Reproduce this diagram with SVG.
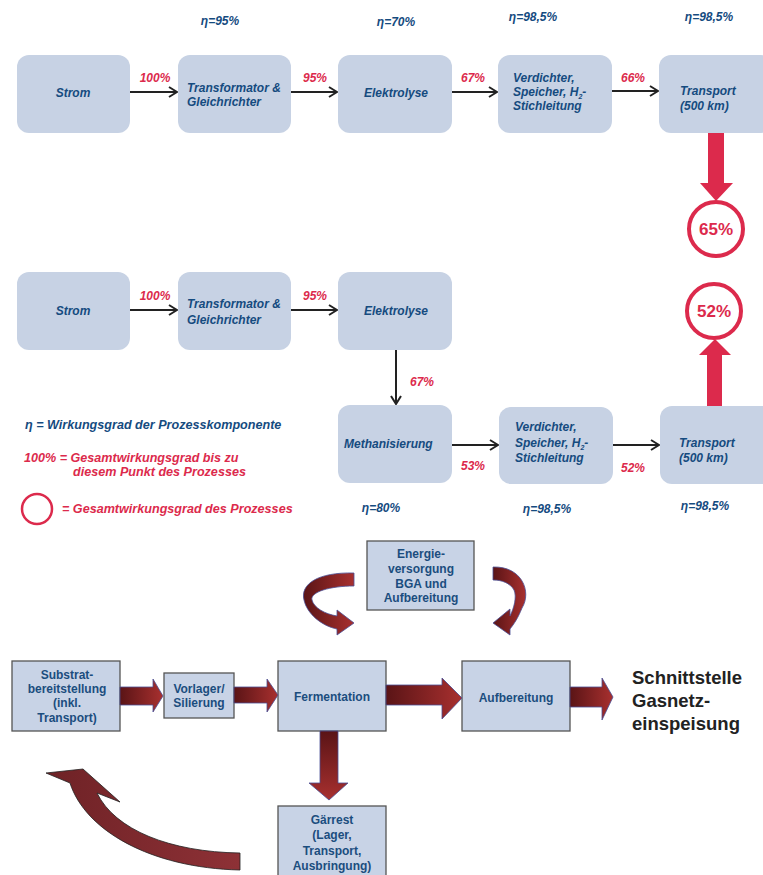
<svg xmlns="http://www.w3.org/2000/svg" width="763" height="875" viewBox="0 0 763 875">
<defs>
<style>
.rb{fill:#c7d2e4;}
.t{font-family:"Liberation Sans",Arial,sans-serif;font-weight:bold;font-style:italic;font-size:12px;fill:#154b7f;}
.r{font-family:"Liberation Sans",Arial,sans-serif;font-weight:bold;font-style:italic;font-size:12px;fill:#dc2a4c;}
.lg{font-size:12.6px;}
.pc{font-family:"Liberation Sans",Arial,sans-serif;font-weight:bold;font-size:17px;fill:#dc2a4c;text-anchor:middle;}
.ln{stroke:#222;stroke-width:2;fill:none;marker-end:url(#ah);}
.sb{fill:#c8d3e6;stroke:#555;stroke-width:1.3;}
.b{font-family:"Liberation Sans",Arial,sans-serif;font-weight:bold;font-size:12px;fill:#1b4d7e;text-anchor:middle;}
.ra{fill:url(#gh);stroke:#4a4f96;stroke-width:0.8;}
.circ{fill:#fff;stroke:#dc2a4c;stroke-width:4;}
</style>
<marker id="ah" markerWidth="10" markerHeight="12" refX="9" refY="6" orient="auto" markerUnits="userSpaceOnUse">
<path d="M1,1 L9,6 L1,11" fill="none" stroke="#222" stroke-width="2"/>
</marker>
<linearGradient id="gh" x1="0" y1="0" x2="1" y2="0">
<stop offset="0" stop-color="#5a1416"/><stop offset="1" stop-color="#a8302f"/>
</linearGradient>
<linearGradient id="gv" x1="0" y1="0" x2="0" y2="1">
<stop offset="0" stop-color="#5a1416"/><stop offset="1" stop-color="#a8302f"/>
</linearGradient>
<linearGradient id="gb" x1="0" y1="0" x2="1" y2="0">
<stop offset="0" stop-color="#6e2226"/><stop offset="1" stop-color="#8e3136"/>
</linearGradient>
</defs>

<!-- Row 1 -->
<g id="strom1"><rect class="rb" x="17" y="55" width="113" height="78" rx="12"/><text class="t" x="73" y="97" text-anchor="middle">Strom</text></g>
<g id="trafo1"><rect class="rb" x="178" y="55" width="113" height="78" rx="12"/><text class="t" x="187" y="92">Transformator &amp;</text><text class="t" x="187" y="106">Gleichrichter</text></g>
<g id="elek1"><rect class="rb" x="338" y="55" width="114" height="78" rx="12"/><text class="t" x="396" y="97" text-anchor="middle">Elektrolyse</text></g>
<g id="verd1"><rect class="rb" x="498" y="55" width="114" height="78" rx="12"/><text class="t" x="513" y="82">Verdichter,</text><text class="t" x="513" y="96">Speicher, H<tspan font-size="7" dy="3">2</tspan><tspan dy="-3">-</tspan></text><text class="t" x="513" y="110">Stichleitung</text></g>
<g id="trans1"><rect class="rb" x="659" y="55" width="114" height="78" rx="12"/><text class="t" x="680" y="95">Transport</text><text class="t" x="680" y="110">(500 km)</text></g>
<g id="eta1">
<text class="t" x="220" y="25" text-anchor="middle">η=95%</text>
<text class="t" x="396" y="26" text-anchor="middle">η=70%</text>
<text class="t" x="533" y="21" text-anchor="middle">η=98,5%</text>
<text class="t" x="709" y="21" text-anchor="middle">η=98,5%</text>
</g>
<g id="res65"><rect x="708" y="133" width="16" height="51" fill="#dc2a4c"/><polygon points="700,183 733,183 716,201" fill="#dc2a4c"/><circle class="circ" cx="716" cy="229" r="27"/><text class="pc" x="716" y="235">65%</text></g>

<!-- Row 2 -->
<g id="strom2"><rect class="rb" x="17" y="272" width="113" height="78" rx="12"/><text class="t" x="73" y="315" text-anchor="middle">Strom</text></g>
<g id="trafo2"><rect class="rb" x="178" y="272" width="113" height="78" rx="12"/><text class="t" x="187" y="308">Transformator &amp;</text><text class="t" x="187" y="324">Gleichrichter</text></g>
<g id="elek2"><rect class="rb" x="338" y="272" width="114" height="78" rx="12"/><text class="t" x="396" y="315" text-anchor="middle">Elektrolyse</text></g>
<g id="meth"><rect class="rb" x="338" y="405" width="114" height="78" rx="12"/><text class="t" x="344" y="448">Methanisierung</text></g>
<g id="verd2"><rect class="rb" x="499" y="407" width="114" height="77" rx="12"/><text class="t" x="515" y="431">Verdichter,</text><text class="t" x="515" y="447">Speicher, H<tspan font-size="7" dy="3">2</tspan><tspan dy="-3">-</tspan></text><text class="t" x="515" y="462">Stichleitung</text></g>
<g id="trans2"><rect class="rb" x="660" y="406" width="114" height="78" rx="12"/><text class="t" x="679" y="447">Transport</text><text class="t" x="679" y="462">(500 km)</text></g>
<g id="eta2">
<text class="t" x="381" y="512" text-anchor="middle">η=80%</text>
<text class="t" x="547" y="513" text-anchor="middle">η=98,5%</text>
<text class="t" x="705" y="510" text-anchor="middle">η=98,5%</text>
</g>
<g id="res52"><rect x="707" y="354" width="15" height="52" fill="#dc2a4c"/><polygon points="699,355 731,355 715,339" fill="#dc2a4c"/><circle class="circ" cx="714" cy="311" r="27"/><text class="pc" x="714" y="317">52%</text></g>

<!-- connectors -->
<g id="connectors">
<line class="ln" x1="130" y1="92" x2="177" y2="92"/>
<line class="ln" x1="291" y1="92" x2="337" y2="92"/>
<line class="ln" x1="452" y1="92" x2="497" y2="92"/>
<line class="ln" x1="612" y1="91" x2="658" y2="91"/>
<line class="ln" x1="130" y1="310" x2="177" y2="310"/>
<line class="ln" x1="291" y1="310" x2="337" y2="310"/>
<line class="ln" x1="396" y1="350" x2="396" y2="404"/>
<line class="ln" x1="452" y1="445" x2="498" y2="445"/>
<line class="ln" x1="613" y1="445" x2="659" y2="445"/>
<text class="r" x="155" y="82" text-anchor="middle">100%</text>
<text class="r" x="315" y="82" text-anchor="middle">95%</text>
<text class="r" x="473" y="82" text-anchor="middle">67%</text>
<text class="r" x="633" y="82" text-anchor="middle">66%</text>
<text class="r" x="155" y="300" text-anchor="middle">100%</text>
<text class="r" x="315" y="300" text-anchor="middle">95%</text>
<text class="r" x="422" y="386" text-anchor="middle">67%</text>
<text class="r" x="473" y="470" text-anchor="middle">53%</text>
<text class="r" x="633" y="472" text-anchor="middle">52%</text>
</g>

<!-- legend -->
<g id="legend">
<text class="t lg" x="25" y="429">η = Wirkungsgrad der Prozesskomponente</text>
<text class="r lg" x="24" y="462">100% = Gesamtwirkungsgrad bis zu</text>
<text class="r lg" x="73" y="476">diesem Punkt des Prozesses</text>
<circle cx="37" cy="509" r="15" fill="none" stroke="#dc2a4c" stroke-width="2.5"/>
<text class="r lg" x="62" y="513">= Gesamtwirkungsgrad des Prozesses</text>
</g>

<!-- bottom -->
<g id="energie"><rect class="sb" x="367" y="541" width="107" height="69"/><text class="b" x="421" y="558">Energie-</text><text class="b" x="421" y="573">versorgung</text><text class="b" x="421" y="588">BGA und</text><text class="b" x="421" y="602">Aufbereitung</text></g>
<g id="substrat"><rect class="sb" x="12" y="661" width="108" height="70"/><text class="b" x="67" y="679">Substrat-</text><text class="b" x="67" y="693">bereitstellung</text><text class="b" x="67" y="707">(inkl.</text><text class="b" x="67" y="722">Transport)</text></g>
<g id="vorlager"><rect class="sb" x="164" y="673" width="70" height="45"/><text class="b" x="199" y="693">Vorlager/</text><text class="b" x="199" y="707">Silierung</text></g>
<g id="fermentation"><rect class="sb" x="278" y="661" width="108" height="70"/><text class="b" x="332" y="701">Fermentation</text></g>
<g id="aufbereitung"><rect class="sb" x="462" y="661" width="108" height="70"/><text class="b" x="516" y="702">Aufbereitung</text></g>
<g id="gaerrest"><rect class="sb" x="278" y="806" width="108" height="74"/><text class="b" x="332" y="824">Gärrest</text><text class="b" x="332" y="839">(Lager,</text><text class="b" x="332" y="855">Transport,</text><text class="b" x="332" y="870">Ausbringung)</text></g>
<g id="schnittstelle"><text font-family="Liberation Sans, Arial, sans-serif" font-weight="bold" font-size="18.5" fill="#222"><tspan x="632" y="684">Schnittstelle</tspan><tspan x="632" y="707">Gasnetz-</tspan><tspan x="632" y="730">einspeisung</tspan></text></g>

<g id="flow-arrows">
<polygon class="ra" points="120,687 153,687 153,679 163,696 153,712 153,705 120,705"/>
<polygon class="ra" points="234,687 267,687 267,679 278,695 267,712 267,703 234,703"/>
<polygon class="ra" points="386,685 442,685 442,678 462,698 442,719 442,705 386,705"/>
<polygon class="ra" points="570,687 602,687 602,678 613,697 602,720 602,707 570,707"/>
<polygon points="320,731 338,731 338,783 348,783 329,800 309,783 320,783" fill="url(#gv)" stroke="#4a4f96" stroke-width="0.8"/>
<path class="ra" d="M354 573 C318 572 300 584 304 600 C307 614 322 626 337 629 L337 635 L354 623 L337 610 L337 616 C325 614 314 608 312 600 C310 592 330 586 354 586 Z"/>
<path class="ra" d="M493 567 C522 566 532 592 522 608 C518 618 514 624 510 629 L510 635 L493 623 L510 609 L510 616 C514 608 517 597 514 590 C510 583 502 580 493 580 Z"/>
<path d="M240 853 C170 852 115 830 97 793 L120 802 L83 769 L46 773 L70 783 C85 830 150 868 240 870 Z" fill="url(#gb)" stroke="#222" stroke-width="0.8"/>
</g>
</svg>
